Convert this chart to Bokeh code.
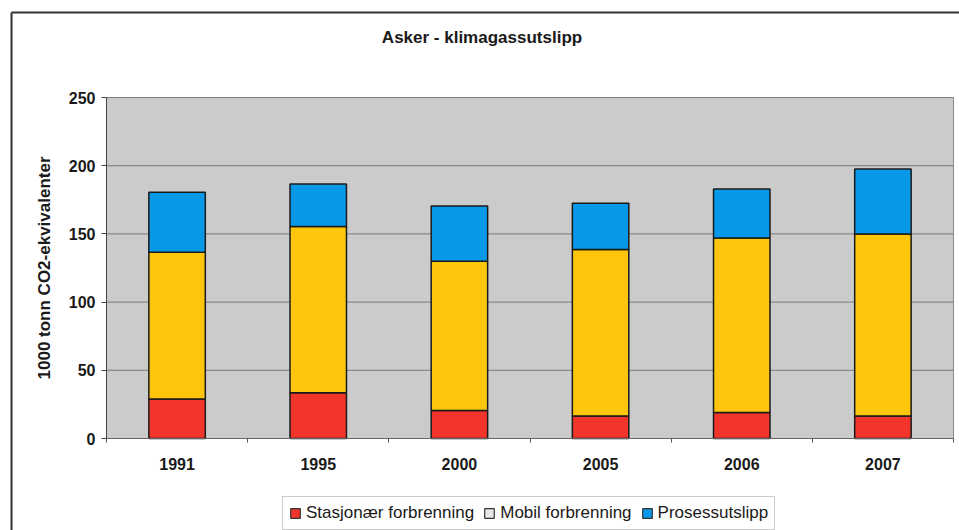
import numpy as np
from bokeh.plotting import figure
from bokeh.models import ColumnDataSource, FixedTicker, Legend, LegendItem, Label
from bokeh.embed import file_html
from bokeh.resources import INLINE

# Emissions for Asker, 1000 tonnes CO2-equivalents
years = ["1991", "1995", "2000", "2005", "2006", "2007"]
stasjonaer = [29.0, 33.5, 20.5, 16.5, 19.0, 16.5]
mobil = [107.5, 122.0, 109.5, 122.0, 128.0, 133.5]
prosess = [44.0, 31.0, 40.5, 34.0, 36.0, 47.5]

series = ["Stasjonær forbrenning", "Mobil forbrenning", "Prosessutslipp"]
bar_colors = ["#f2352b", "#fdc60c", "#0898e8"]
legend_colors = ["#f2352b", "#e6e6e6", "#0898e8"]
y_ticks = [0, 50, 100, 150, 200, 250]
y_max = 250

FONT = "Liberation Sans"

n = len(years)
pos = list(range(n))
src = ColumnDataSource(dict(x=pos, stasjonaer=stasjonaer, mobil=mobil, prosess=prosess))

# The frame fills the whole canvas; the plot area is the region
# [-0.5, n-0.5] x [0, y_max], with the axes pinned to its edges.
W, H = 959, 530
area_l, area_r, area_t, area_b = 106, 953, 97, 438
px_x = (area_r - area_l) / n
px_y = (area_b - area_t) / y_max
x_range = (-0.5 - area_l / px_x, n - 0.5 + (W - area_r) / px_x)
y_range = (-(H - area_b) / px_y, y_max + area_t / px_y)

p = figure(width=W, height=H, output_backend="svg", toolbar_location=None,
           x_range=x_range, y_range=y_range,
           min_border_left=0, min_border_right=0,
           min_border_top=0, min_border_bottom=0)
p.background_fill_color = "white"
p.border_fill_color = "white"
p.outline_line_color = None
p.xgrid.grid_line_color = None
p.ygrid.grid_line_color = None

# outer chart frame: only its left and top edges fall inside the canvas
frame_x = x_range[0] + 11 / px_x
frame_y = y_range[1] - 12 / px_y
p.segment(x0=[frame_x, frame_x], y0=[frame_y, frame_y],
          x1=[frame_x, x_range[1] + 1], y1=[y_range[0] - 10, frame_y],
          line_color="#333333", line_width=2)

# grey plot area
p.quad(left=[-0.5], right=[n - 0.5], bottom=[0], top=[y_max],
       fill_color="#cbcbcb", line_color="#8a8a8a", line_width=1)
# horizontal gridlines
p.segment(x0=[-0.5] * len(y_ticks), x1=[n - 0.5] * len(y_ticks),
          y0=y_ticks, y1=y_ticks, line_color="#7b7b7b", line_width=1)

p.vbar_stack(["stasjonaer", "mobil", "prosess"], x="x", width=0.4, source=src,
             fill_color=bar_colors, line_color="#1a1a1a", line_width=1.5)

# x axis: year labels at bar centres, small ticks between categories
xa = p.xaxis[0]
xa.fixed_location = 0
xa.bounds = (-0.5, n - 0.5)
xa.ticker = FixedTicker(ticks=pos, minor_ticks=[i - 0.5 for i in range(n + 1)])
xa.major_label_overrides = {i: y for i, y in enumerate(years)}
xa.major_tick_line_color = None
xa.major_tick_out = 0
xa.major_tick_in = 0
xa.minor_tick_out = 4
xa.minor_tick_in = 0
xa.minor_tick_line_color = "#555555"
xa.axis_line_color = "#666666"
xa.major_label_standoff = 15
xa.major_label_text_font = FONT
xa.major_label_text_font_size = "16px"
xa.major_label_text_font_style = "bold"
xa.major_label_text_color = "#1a1a1a"

ya = p.yaxis[0]
ya.fixed_location = -0.5
ya.bounds = (0, y_max)
ya.ticker = FixedTicker(ticks=y_ticks)
ya.major_tick_out = 5
ya.major_tick_in = 0
ya.minor_tick_line_color = None
ya.major_tick_line_color = "#444444"
ya.axis_line_color = "#444444"
ya.major_label_standoff = 6
ya.major_label_text_font = FONT
ya.major_label_text_font_size = "16px"
ya.major_label_text_font_style = "bold"
ya.major_label_text_color = "#1a1a1a"
ya.axis_label = "1000 tonn CO2-ekvivalenter"
ya.axis_label_text_font = FONT
ya.axis_label_text_font_size = "17px"
ya.axis_label_text_font_style = "bold"
ya.axis_label_text_color = "#1a1a1a"
ya.axis_label_standoff = 12

# chart title
p.add_layout(Label(x=(n - 1) / 2, y=y_max + (area_t - 37) / px_y, x_offset=-48,
                   text="Asker - klimagassutslipp",
                   text_align="center", text_baseline="middle",
                   text_font=FONT, text_font_size="17px", text_font_style="bold",
                   text_color="#1a1a1a"))

# legend proxies
items = []
for name, c in zip(series, legend_colors):
    r = p.vbar(x=[np.nan], top=[np.nan], width=0.4,
               fill_color=c, line_color="#333333", line_width=1.2)
    items.append(LegendItem(label=name, renderers=[r]))

legend = Legend(items=items, orientation="horizontal", location=(282, 0),
                glyph_width=12, glyph_height=12, label_standoff=5, spacing=9,
                padding=6, margin=0, label_text_font=FONT,
                label_text_font_size="17px", label_text_color="#1a1a1a",
                border_line_color="#999999", border_line_width=1,
                background_fill_color="white", background_fill_alpha=1)
p.add_layout(legend, "center")

open("out.html", "w").write(file_html(p, INLINE))
